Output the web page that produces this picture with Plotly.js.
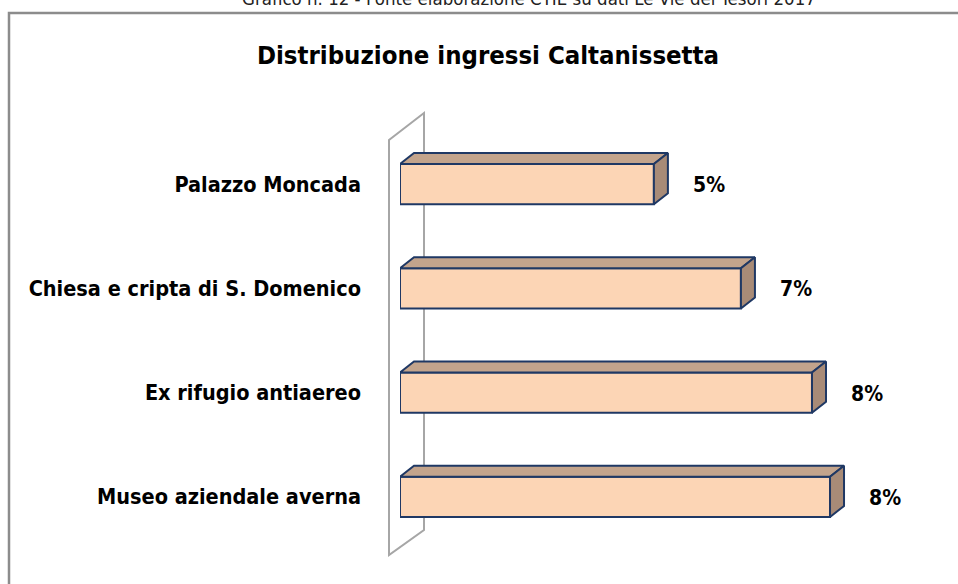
<!DOCTYPE html>
<html>
<head>
<meta charset="utf-8">
<script src="https://cdn.plot.ly/plotly-3.0.1.min.js"></script>
<style>html,body{margin:0;padding:0;background:#fff;}#chart{width:958px;height:584px;}</style>
</head>
<body>
<div id="chart"></div>
<script>
// Data (top to bottom as displayed)
const categories = ["Palazzo Moncada", "Chiesa e cripta di S. Domenico", "Ex rifugio antiaereo", "Museo aziendale averna"];
const shares = [4.93, 6.62, 8.00, 8.35]; // percent
const chartTitle = "Distribuzione ingressi Caltanissetta";
const caption = "Grafico n. 12 - Fonte elaborazione CTIE su dati Le Vie dei Tesori 2017";

const FONT = "'DejaVu Sans Condensed', 'Liberation Sans Narrow', 'Arial Narrow', sans-serif";
const n = categories.length;
const idx = categories.map((c, i) => n - 1 - i);
const barW = 0.385;      // category units
const depthX = 0.272;    // percent units
const depthY = 0.1055;   // category units

const topX = [], topY = [], sideX = [], sideY = [];
shares.forEach((v, i) => {
  const c = idx[i], h = barW / 2;
  topX.push(0, v, v + depthX, depthX, 0, null);
  topY.push(c + h, c + h, c + h + depthY, c + h + depthY, c + h, null);
  sideX.push(v, v + depthX, v + depthX, v, v, null);
  sideY.push(c - h, c - h + depthY, c + h + depthY, c + h, c - h, null);
});

const edge = '#1F3864';
const traces = [
  {type: 'bar', orientation: 'h', x: shares, y: idx, width: barW,
   marker: {color: '#FCD5B5', line: {color: edge, width: 2}}, hoverinfo: 'skip'},
  {type: 'scatter', mode: 'lines', x: topX, y: topY, fill: 'toself', fillcolor: '#C3A48C',
   line: {color: edge, width: 2}, hoverinfo: 'skip'},
  {type: 'scatter', mode: 'lines', x: sideX, y: sideY, fill: 'toself', fillcolor: '#A88B77',
   line: {color: edge, width: 2}, hoverinfo: 'skip'}
];

const L = 400, T = 132, W = 500, H = 417;
const px = p => (p - L) / W;
const py = p => (T + H - p) / H;

const annotations = shares.map((v, i) => ({
  x: v, y: idx[i], xref: 'x', yref: 'y', text: Math.round(v) + '%', showarrow: false,
  xanchor: 'left', yanchor: 'middle', xshift: 37, yshift: -1,
  font: {family: FONT, size: 21, color: '#000', weight: 'bold'}
}));
annotations.push({
  x: 0.5, xref: 'paper', y: 1, yref: 'paper', xanchor: 'center', yanchor: 'middle',
  xshift: 529 - (L + W / 2), yshift: T + 2, text: caption, showarrow: false,
  font: {family: FONT, size: 18.5, color: '#222'}
});

const layout = {
  width: 958, height: 584,
  margin: {l: L, r: 958 - L - W, t: T, b: 584 - T - H, pad: 0},
  paper_bgcolor: '#fff', plot_bgcolor: 'rgba(0,0,0,0)',
  showlegend: false,
  title: {text: chartTitle, x: 488 / 958, xanchor: 'center', y: 1 - 55 / 584, yanchor: 'middle',
          font: {family: FONT, size: 25.5, color: '#000', weight: 'bold'}},
  xaxis: {range: [0, 9.709], visible: false, fixedrange: true},
  yaxis: {range: [-0.5, 3.5], tickvals: idx, ticktext: categories, showgrid: false, zeroline: false,
          showline: false, ticks: '', ticklabelstandoff: 38,
          tickfont: {family: FONT, size: 21.5, color: '#000', weight: 'bold'}},
  shapes: [
    {type: 'rect', xref: 'paper', yref: 'paper', x0: px(9), x1: px(965), y0: py(13), y1: py(600),
     line: {color: '#8C8C8C', width: 2.5}, fillcolor: 'rgba(0,0,0,0)', layer: 'below'},
    {type: 'path', xref: 'paper', yref: 'paper',
     path: `M ${px(389)} ${py(140)} L ${px(424)} ${py(113)} L ${px(424)} ${py(530)} L ${px(389)} ${py(555)} Z`,
     line: {color: '#A6A6A6', width: 2}, fillcolor: '#fff', layer: 'below'}
  ],
  annotations: annotations
};

Plotly.newPlot('chart', traces, layout, {staticPlot: true, displayModeBar: false});
</script>
</body>
</html>
